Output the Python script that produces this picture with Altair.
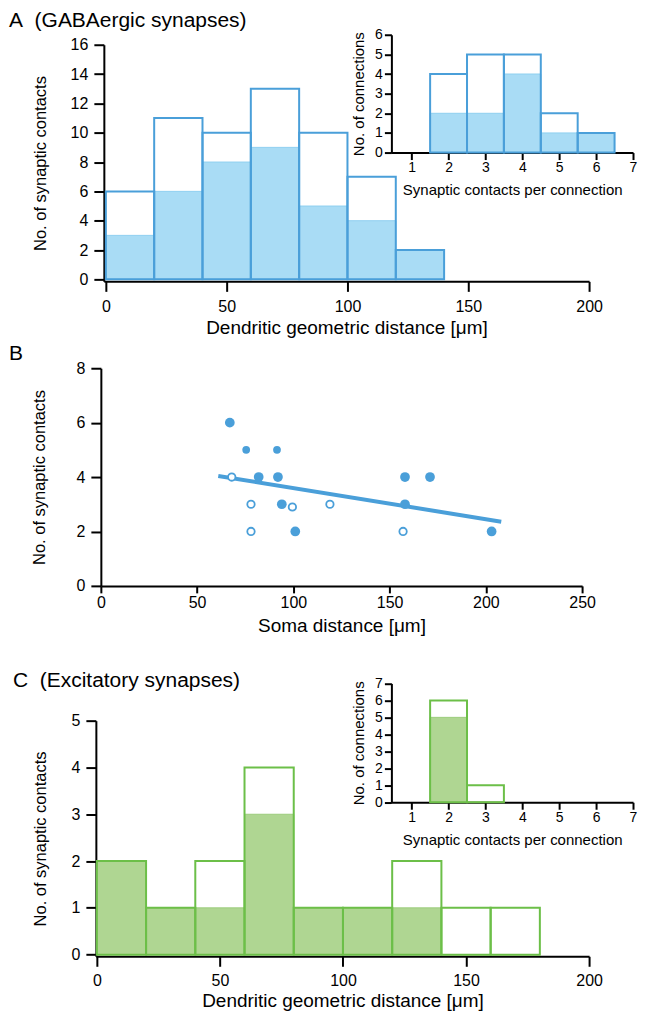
import altair as alt
import pandas as pd

FONT = "Liberation Sans"
BLACK = "#000000"
BLUE = "#4a9fd9"
BLUE_FILL = "#a9dcf5"
BLUE_EDGE = "#8fd0f0"
GREEN = "#6cbf48"
GREEN_FILL = "#afd692"
GREEN_EDGE = "#9dcd7c"

# ---------------- data ----------------
a_bin_start = [0, 20, 40, 60, 80, 100, 120]
a_bin_end = [20, 40, 60, 80, 100, 120, 140]
a_total = [6, 11, 10, 13, 10, 7, 2]
a_filled = [3, 6, 8, 9, 5, 4, 2]
a_x_ticks = [0, 50, 100, 150, 200]
a_y_ticks = [0, 2, 4, 6, 8, 10, 12, 14, 16]

ai_bin_start = [1.5, 2.5, 3.5, 4.5, 5.5]
ai_bin_end = [2.5, 3.5, 4.5, 5.5, 6.5]
ai_total = [4, 5, 5, 2, 1]
ai_filled = [2, 2, 4, 1, 1]
ai_x_ticks = [1, 2, 3, 4, 5, 6, 7]
ai_y_ticks = [0, 1, 2, 3, 4, 5, 6]

b_big_x = [67, 82, 92, 94, 101, 158, 171, 158, 203]
b_big_y = [6, 4, 4, 3, 2, 4, 4, 3, 2]
b_small_x = [75.5, 91.5]
b_small_y = [5, 5]
b_open_x = [68, 78, 99.5, 119, 78, 157]
b_open_y = [4, 3, 2.9, 3, 2, 2]
b_fit_x = [61, 208]
b_fit_y = [4.04, 2.36]
b_x_ticks = [0, 50, 100, 150, 200, 250]
b_y_ticks = [0, 2, 4, 6, 8]

c_bin_start = [0, 20, 40, 60, 80, 100, 120, 140, 160]
c_bin_end = [20, 40, 60, 80, 100, 120, 140, 160, 180]
c_total = [2, 1, 2, 4, 1, 1, 2, 1, 1]
c_filled = [2, 1, 1, 3, 1, 1, 1, 0, 0]
c_x_ticks = [0, 50, 100, 150, 200]
c_y_ticks = [0, 1, 2, 3, 4, 5]

ci_bin_start = [1.5, 2.5]
ci_bin_end = [2.5, 3.5]
ci_total = [6, 1]
ci_filled = [5, 0]
ci_x_ticks = [1, 2, 3, 4, 5, 6, 7]
ci_y_ticks = [0, 1, 2, 3, 4, 5, 6, 7]


def axis(**kw):
    base = dict(grid=False, domainColor=BLACK, tickColor=BLACK, labelColor=BLACK,
                titleColor=BLACK, labelFont=FONT, titleFont=FONT,
                titleFontWeight="normal", domainWidth=2, tickWidth=2,
                labelFlush=False, labelOverlap=False)
    base.update(kw)
    return alt.Axis(**base)


def hist(start, end, total, filled, xscale, yscale, xaxis, yaxis, line, fill, edge):
    df = pd.DataFrame({"lo": start, "hi": end, "total": total,
                       "filled": filled, "base": [0] * len(start)})
    ch = alt.Chart(df)
    x = alt.X("lo:Q", scale=xscale, axis=xaxis)
    x2 = alt.X2("hi")
    y2 = alt.Y2("base")
    f = ch.mark_rect(fill=fill, stroke=edge, strokeWidth=1).encode(
        x=x, x2=x2, y=alt.Y("filled:Q", scale=yscale, axis=yaxis), y2=y2)
    o = ch.mark_rect(fillOpacity=0, stroke=line, strokeWidth=2).encode(
        x=x, x2=x2, y=alt.Y("total:Q", scale=yscale, axis=yaxis), y2=y2)
    return alt.layer(f, o)


def ptitle(text, dx, offset):
    return alt.TitleParams(text=text, anchor="start", frame="group", dx=dx,
                           offset=offset, fontSize=21, font=FONT,
                           fontWeight="normal", color=BLACK)


# ---------------- Panel A ----------------
a_main = hist(
    a_bin_start, a_bin_end, a_total, a_filled,
    alt.Scale(domain=[-0.83, 200], range=[8, 494], nice=False, zero=False),
    alt.Scale(domain=[-0.136, 16], nice=False, zero=False),
    axis(values=a_x_ticks, title="Dendritic geometric distance [μm]", tickSize=10,
         labelPadding=7, titlePadding=4, labelFontSize=16, titleFontSize=19),
    axis(values=a_y_ticks, title="No. of synaptic contacts", offset=-8, tickSize=10,
         labelPadding=6, titlePadding=22, labelFontSize=16, titleFontSize=16.5),
    BLUE, BLUE_FILL, BLUE_EDGE)

a_inset = hist(
    ai_bin_start, ai_bin_end, ai_total, ai_filled,
    alt.Scale(domain=[0.45, 7], range=[296, 538], nice=False, zero=False),
    alt.Scale(domain=[0, 6], range=[108, -10], nice=False, zero=False),
    axis(values=ai_x_ticks, orient="bottom", offset=-129,
         title="Synaptic contacts per connection", tickSize=7, labelPadding=1,
         titlePadding=8, labelFontSize=14, titleFontSize=15),
    axis(values=ai_y_ticks, orient="left", offset=-296, title="No. of connections",
         tickSize=7, labelPadding=2, titlePadding=8, labelFontSize=14, titleFontSize=15),
    BLUE, BLUE_FILL, BLUE_EDGE)

panel_a = alt.layer(a_main, a_inset).resolve_scale(
    x="independent", y="independent").properties(
    width=494, height=237, title=ptitle("A\u00a0\u00a0(GABAergic synapses)", -87, -3))

# ---------------- Panel B ----------------
bx = alt.Scale(domain=[0, 250], range=[5, 487], nice=False, zero=False)
by = alt.Scale(domain=[0, 8], nice=False, zero=False)
bxa = axis(values=b_x_ticks, title="Soma distance [μm]", tickSize=7, labelPadding=2,
           titlePadding=6, labelFontSize=16, titleFontSize=19)
bya = axis(values=b_y_ticks, title="No. of synaptic contacts", offset=-5, tickSize=10,
           labelPadding=6, titlePadding=29, labelFontSize=16, titleFontSize=16.5)
BX = alt.X("x:Q", scale=bx, axis=bxa)
BY = alt.Y("y:Q", scale=by, axis=bya)


def pts(xs, ys):
    return pd.DataFrame({"x": xs, "y": ys})


fit = alt.Chart(pts(b_fit_x, b_fit_y)).mark_line(color=BLUE, strokeWidth=4).encode(x=BX, y=BY)
opens = alt.Chart(pts(b_open_x, b_open_y)).mark_point(
    shape="circle", filled=True, fill="white", stroke=BLUE, strokeWidth=1.8,
    size=55, opacity=1).encode(x=BX, y=BY)
big = alt.Chart(pts(b_big_x, b_big_y)).mark_circle(
    color=BLUE, size=95, opacity=1).encode(x=BX, y=BY)
small = alt.Chart(pts(b_small_x, b_small_y)).mark_circle(
    color=BLUE, size=60, opacity=1).encode(x=BX, y=BY)

panel_b = alt.layer(fit, opens, big, small).properties(
    width=487, height=218, title=ptitle("B", -87, -4))

# ---------------- Panel C ----------------
c_main = hist(
    c_bin_start, c_bin_end, c_total, c_filled,
    alt.Scale(domain=[-0.4, 200], range=[0, 494], nice=False, zero=False),
    alt.Scale(domain=[-0.035, 5], nice=False, zero=False),
    axis(values=c_x_ticks, title="Dendritic geometric distance [μm]", tickSize=10,
         labelPadding=6, titlePadding=3, labelFontSize=16, titleFontSize=19),
    axis(values=c_y_ticks, title="No. of synaptic contacts", tickSize=10,
         labelPadding=6, titlePadding=23, labelFontSize=16, titleFontSize=16.5),
    GREEN, GREEN_FILL, GREEN_EDGE)

c_inset = hist(
    ci_bin_start, ci_bin_end, ci_total, ci_filled,
    alt.Scale(domain=[0.45, 7], range=[296, 538], nice=False, zero=False),
    alt.Scale(domain=[0, 7], range=[81.7, -37.3], nice=False, zero=False),
    axis(values=ci_x_ticks, orient="bottom", offset=-154.3,
         title="Synaptic contacts per connection", tickSize=7, labelPadding=1,
         titlePadding=8, labelFontSize=14, titleFontSize=15),
    axis(values=ci_y_ticks, orient="left", offset=-296, title="No. of connections",
         tickSize=7, labelPadding=2, titlePadding=8, labelFontSize=14, titleFontSize=15),
    GREEN, GREEN_FILL, GREEN_EDGE)

panel_c = alt.layer(c_main, c_inset).resolve_scale(
    x="independent", y="independent").properties(
    width=494, height=236, title=ptitle("C\u00a0\u00a0(Excitatory synapses)", -83, -15))

top = alt.vconcat(panel_a, panel_b, spacing=4)
chart = alt.vconcat(top, panel_c, spacing=33).properties(
    padding=0, background="white").configure_view(stroke="transparent")

chart.save("out.html", embed_options={"renderer": "svg", "actions": False})
